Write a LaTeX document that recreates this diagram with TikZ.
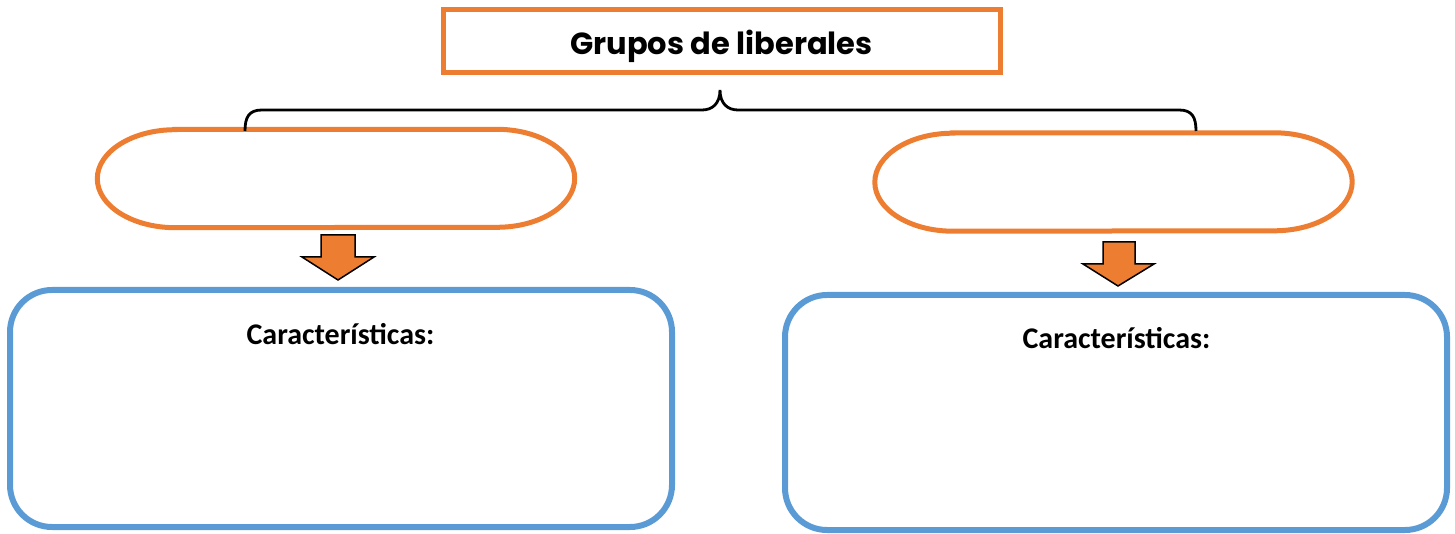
\documentclass[tikz,border=0pt]{standalone}
\usepackage{fontspec}
\setmainfont{Carlito}
\newfontfamily\gothic{Poppins}
\usetikzlibrary{calc}
\definecolor{ora}{HTML}{ED7D31}
\definecolor{blu}{HTML}{5B9BD5}
\tikzset{
  x=1pt,y=1pt,
  titlebox/.style={draw=ora,line width=5pt,minimum width=557pt,minimum height=63pt,inner sep=0pt},
  ovalbox/.style={minimum width=477pt,minimum height=98pt,inner sep=0pt},
  ovalline/.style={draw=ora,line width=5pt},
  charbox/.style={draw=blu,line width=6pt,rounded corners=42pt,minimum width=662pt,inner sep=0pt},
  blockarrow/.style={draw=black,fill=ora,line width=1.5pt,line join=miter},
  bracket/.style={draw=black,line width=2.8pt},
  chartext/.style={font=\fontsize{30}{34}\selectfont\bfseries,anchor=base,inner sep=0pt},
}
\newcommand\stadium[3]{% node name, corner x radius, half height
  \draw[ovalline] ($(#1.north west)+(#2,0)$) -- ($(#1.north east)+(-#2,0)$)
    arc[start angle=90,end angle=-90,x radius=#2,y radius=#3]
    -- ($(#1.south west)+(#2,0)$)
    arc[start angle=270,end angle=90,x radius=#2,y radius=#3] -- cycle;}
\begin{document}
\begin{tikzpicture}
\useasboundingbox (0,0) rectangle (1455,533);
% title
\node[titlebox] (title) at (722,492) {};
\node[font=\gothic\bfseries\fontsize{30.5}{36}\selectfont,anchor=base,inner sep=0pt] (titletext) at (721.5,478) {Grupos de liberales};
% ovals
\node[ovalbox] (oleft) at (336,354.5) {};
\node[ovalbox] (oright) at (1113.5,351) {};
\stadium{oleft}{78}{49}
\stadium{oright}{78}{49}
% bracket
\coordinate (bl) at (245,402);
\coordinate (br) at (1196,402);
\coordinate (bm) at (720,443);
\draw[bracket] (bl) .. controls ($(bl)+(0,14)$) and ($(bl)+(4,21)$) .. ($(bl)+(17,21)$)
  -- ($(bm)+(-18,-20)$) .. controls ($(bm)+(-8,-20)$) and ($(bm)+(0,-14)$) .. (bm)
  .. controls ($(bm)+(0,-14)$) and ($(bm)+(8,-20)$) .. ($(bm)+(18,-20)$)
  -- ($(br)+(-17,21)$) .. controls ($(br)+(-4,21)$) and ($(br)+(0,14)$) .. (br);
% blue boxes
\node[charbox,minimum height=237pt] (bleft) at (341,124.5) {};
\node[charbox,minimum height=235pt] (bright) at (1116,120.5) {};
\node[chartext] (cl) at (340.5,188) {Características:};
\node[chartext] (cr) at (1116.5,184) {Características:};
% block arrows
\draw[blockarrow] (321,298) -- (355,298) -- (355,276) -- (374,276) -- (338,253) -- (302,276) -- (321,276) -- cycle;
\draw[blockarrow] (1103,291) -- (1135,291) -- (1135,269) -- (1154,269) -- (1118,247) -- (1083,269) -- (1103,269) -- cycle;
\end{tikzpicture}
\end{document}
